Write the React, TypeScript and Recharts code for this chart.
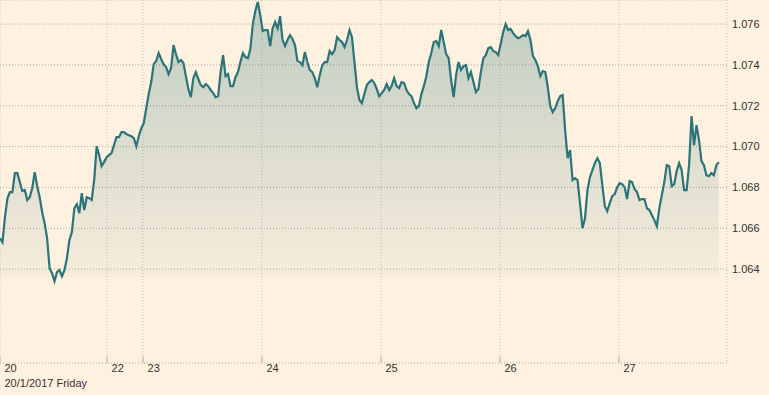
import { Area, AreaChart, CartesianGrid, XAxis, YAxis } from "recharts"

// EUR/USD style intraday series, one value per half hour of trading
const prices = [
  1.06551, 1.06532, 1.06654, 1.06747, 1.06777, 1.06777, 1.0687, 1.0687, 1.06826, 1.06782,
  1.06787, 1.06738, 1.06752, 1.06796, 1.06875, 1.06806, 1.06752, 1.06679, 1.06625, 1.06551,
  1.06404, 1.0638, 1.06341, 1.06385, 1.06395, 1.06365, 1.06395, 1.06453, 1.06542, 1.06581,
  1.06698, 1.06718, 1.06674, 1.06772, 1.06689, 1.06752, 1.06747, 1.06738, 1.06836, 1.07002,
  1.06958, 1.06904, 1.06924, 1.06948, 1.06958, 1.06968, 1.07007, 1.07046, 1.07046, 1.07071,
  1.07071, 1.07061, 1.07056, 1.07051, 1.07041, 1.07002, 1.07051, 1.0709, 1.07115, 1.07188,
  1.07257, 1.07316, 1.07404, 1.07419, 1.07458, 1.07429, 1.07404, 1.07389, 1.07355, 1.07384,
  1.07497, 1.07453, 1.07414, 1.07424, 1.07409, 1.07345, 1.07282, 1.07242, 1.07335, 1.07365,
  1.07331, 1.07301, 1.07291, 1.07306, 1.07296, 1.07277, 1.07262, 1.07242, 1.07247, 1.07365,
  1.07448, 1.07345, 1.07355, 1.07296, 1.07296, 1.0734, 1.07365, 1.07414, 1.07458, 1.07438,
  1.07433, 1.07478, 1.076, 1.07664, 1.07708, 1.07644, 1.07566, 1.07571, 1.07571, 1.07492,
  1.0758, 1.0761, 1.0758, 1.07639, 1.07522, 1.07492, 1.07522, 1.07546, 1.07527, 1.07497,
  1.07419, 1.07414, 1.07399, 1.07463, 1.07414, 1.07375, 1.07365, 1.07335, 1.07291, 1.0735,
  1.07399, 1.07414, 1.07414, 1.07468, 1.07453, 1.07473, 1.07536, 1.07522, 1.07512, 1.07487,
  1.07522, 1.07571, 1.07536, 1.07414, 1.07291, 1.07228, 1.07213, 1.07257, 1.07301, 1.07316,
  1.07326, 1.07311, 1.07282, 1.07247, 1.07262, 1.07277, 1.07306, 1.07277, 1.07296, 1.07335,
  1.07296, 1.07286, 1.07316, 1.07311, 1.07277, 1.07257, 1.07247, 1.07213, 1.07188, 1.07198,
  1.07257, 1.07296, 1.07345, 1.07414, 1.07458, 1.07512, 1.07517, 1.07492, 1.07571, 1.07512,
  1.07453, 1.07433, 1.07326, 1.07242, 1.0735, 1.07414, 1.07375, 1.07394, 1.07399, 1.07335,
  1.07365, 1.07316, 1.07267, 1.07282, 1.07365, 1.07433, 1.07448, 1.07482, 1.07487, 1.07468,
  1.07463, 1.07448, 1.07502, 1.07561, 1.076, 1.07571, 1.07576, 1.07556, 1.07541, 1.07531,
  1.07536, 1.07546, 1.07541, 1.07566, 1.07522, 1.07443, 1.07424, 1.07394, 1.07345, 1.0737,
  1.07365, 1.07291, 1.07198, 1.07169, 1.07188, 1.07223, 1.07247, 1.07252, 1.07081, 1.06943,
  1.06983, 1.06836, 1.06845, 1.06836, 1.06723, 1.066, 1.06649, 1.06787, 1.0685, 1.06885,
  1.06919, 1.06943, 1.06919, 1.06811, 1.06708, 1.06684, 1.06723, 1.06757, 1.06767, 1.06801,
  1.06821, 1.06816, 1.06801, 1.06743, 1.06831, 1.06826, 1.06792, 1.06777, 1.06738, 1.06743,
  1.06743, 1.06698, 1.06689, 1.06664, 1.0664, 1.0661, 1.06698, 1.06762, 1.06826, 1.06909,
  1.06904, 1.06806, 1.06816, 1.0688, 1.06919, 1.06885, 1.06787, 1.06787, 1.06909, 1.07149,
  1.07007, 1.07105, 1.07032, 1.06929, 1.06909, 1.0686, 1.06855, 1.0687, 1.0686, 1.06909,
  1.06924,
]

// day boundaries, in half-hour steps (weekend squeezed out)
const dayTicks = [0, 43.2, 57.7, 105.7, 153.7, 201.7, 249.7]
const dayLabels = ["20", "22", "23", "24", "25", "26", "27"]
const firstDayCaption = "20/1/2017 Friday"

const priceTicks = [1.064, 1.066, 1.068, 1.07, 1.072, 1.074, 1.076]

const data = prices.map((price, t) => ({ t, price }))

const FONT = "Arial, 'Liberation Sans', sans-serif"
const LINE = "#2a7579"

function DayTick(props: any) {
  const { x, y, index } = props
  return (
    <g>
      <line x1={x} x2={x} y1={y - 7} y2={y} stroke="#bdb4a8" />
      <text x={x + 4.5} y={y + 9} fontSize={11} fontFamily={FONT} fill="#333">
        {dayLabels[index]}
      </text>
      {index === 0 && (
        <text x={x + 4.5} y={y + 24} fontSize={11} fontFamily={FONT} fill="#333">
          {firstDayCaption}
        </text>
      )}
    </g>
  )
}

export default function App() {
  return (
    <div style={{ width: 769, height: 395, background: "#fff1e0" }}>
      <style>{"body{margin:0;background:#fff1e0}"}</style>
      <AreaChart
        width={769}
        height={395}
        data={data}
        margin={{ top: 0, right: 0, bottom: 0, left: 0 }}
      >
        <defs>
          <linearGradient id="priceFill" x1="0" y1="0" x2="0" y2="1">
            <stop offset="0%" stopColor={LINE} stopOpacity={0.5} />
            <stop offset="100%" stopColor={LINE} stopOpacity={0.06} />
          </linearGradient>
        </defs>
        <CartesianGrid horizontal={false} stroke="#cdc4b8" strokeDasharray="1 2" />
        <CartesianGrid vertical={false} stroke="#ada69d" strokeDasharray="1 2" />
        <XAxis
          dataKey="t"
          type="number"
          domain={[0, 293.3]}
          ticks={dayTicks}
          interval={0}
          allowDataOverflow
          axisLine={false}
          tickLine={false}
          tickSize={0}
          tickMargin={0}
          height={32}
          tick={<DayTick />}
        />
        <YAxis
          orientation="right"
          width={42}
          domain={[1.0594, 1.07718]}
          allowDataOverflow
          ticks={priceTicks}
          tickFormatter={(v: number) => v.toFixed(3)}
          axisLine={false}
          tickLine={false}
          tickSize={0}
          tickMargin={5}
          tick={{ fontSize: 11, fontFamily: FONT, fill: "#333" }}
        />
        <Area
          type="linear"
          dataKey="price"
          baseValue={1.0636}
          stroke={LINE}
          strokeWidth={2.2}
          fill="url(#priceFill)"
          dot={false}
          activeDot={false}
          isAnimationActive={false}
        />
      </AreaChart>
    </div>
  )
}
